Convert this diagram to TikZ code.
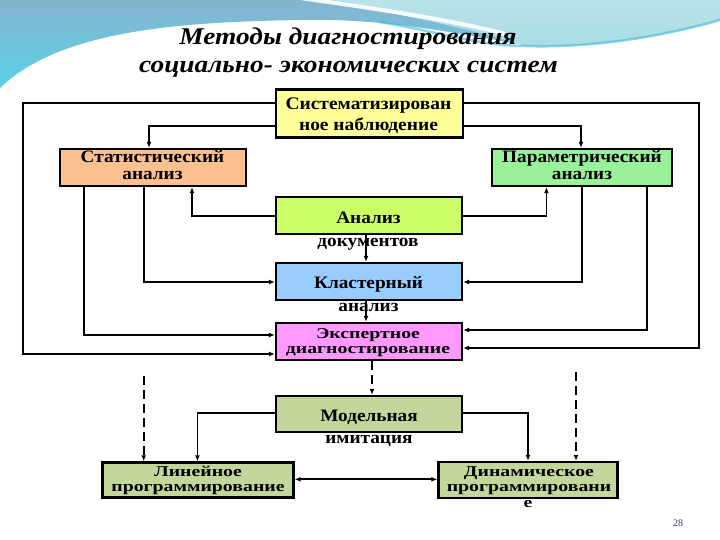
\documentclass[tikz,border=0pt]{standalone}
\usepackage{fontspec}
\setmainfont{Liberation Serif}
\newfontfamily\bxf{Liberation Serif}[FakeStretch=1.1]
\newfontfamily\bxw{Liberation Serif}[FakeStretch=1.32]
\newfontfamily\ttlf{Liberation Serif}[FakeStretch=1.14]
\usetikzlibrary{arrows.meta,calc}
\definecolor{cSys}{HTML}{FFFF99}
\definecolor{cStat}{HTML}{FAC090}
\definecolor{cPar}{HTML}{99F299}
\definecolor{cDoc}{HTML}{CCFF66}
\definecolor{cClu}{HTML}{99CCFF}
\definecolor{cExp}{HTML}{FF99FF}
\definecolor{cMod}{HTML}{C3D69B}
\definecolor{steel}{HTML}{86B4CE}
\definecolor{cyanL}{HTML}{58D2E6}
\definecolor{turq}{HTML}{A8DCE4}
\definecolor{bandE}{HTML}{3FB7D6}
\definecolor{pgnum}{HTML}{2A3F70}
\begin{document}
\begin{tikzpicture}[x=1pt,y=-1pt,
  box/.style={draw=black, line width=2.4pt, inner sep=0pt},
  txt/.style={font=\bxf\bfseries\fontsize{17.5}{17.5}\selectfont, anchor=base, inner sep=0pt},
  wtxt/.style={font=\bxw\bfseries\fontsize{15}{15}\selectfont, anchor=base, inner sep=0pt},
  bigtxt/.style={font=\bxf\bfseries\fontsize{17.7}{17.7}\selectfont, anchor=base, inner sep=0pt},
  ttl/.style={font=\ttlf\bfseries\itshape\fontsize{24}{24}\selectfont, anchor=base, inner sep=0pt},
  conn/.style={line width=1.8pt, -{Latex[length=6pt,width=5pt]}},
  dconn/.style={conn, dash pattern=on 9pt off 5pt}]
\useasboundingbox (0,0) rectangle (720,540);
% background
\fill[white] (0,0) rectangle (720,540);
\shade[top color=steel, bottom color=cyanL]
  (0,0) -- (322,0) .. controls (400,14) and (470,28) .. (525,45)
  .. controls (450,32) and (380,18) .. (300,20)
  .. controls (180,22) and (60,30) .. (0,88) -- cycle;
\shade[top color=turq!80!white, bottom color=turq]
  (322,0) -- (720,0) -- (720,20) .. controls (650,40) and (580,48) .. (525,46)
  .. controls (470,28) and (400,14) .. (322,0) -- cycle;
\draw[white, line width=4pt, opacity=0.9] (300,-2) .. controls (400,12) and (460,22) .. (505,34);
\draw[bandE, line width=2.5pt, opacity=0.6] (380,22) .. controls (440,32) and (480,46) .. (525,46) .. controls (580,48) and (650,40) .. (720,20);
% title
\node[ttl] (t1) at (348,45) {Методы диагностирования};
\node[ttl] (t2) at (348.5,72.5) {социально- экономических систем};
% boxes
\node[box, fill=cSys, minimum width=187pt, minimum height=48pt] (sys) at (369.5,113.5) {};
\node[box, fill=cStat, minimum width=186pt, minimum height=37pt] (stat) at (153,167.5) {};
\node[box, fill=cPar, minimum width=180pt, minimum height=37pt] (par) at (582,167.5) {};
\node[box, fill=cDoc, minimum width=186pt, minimum height=37pt] (doc) at (369,215.5) {};
\node[box, fill=cClu, minimum width=186pt, minimum height=37pt] (clu) at (369,281.5) {};
\node[box, fill=cExp, minimum width=186pt, minimum height=37pt] (exp) at (369,341.5) {};
\node[box, fill=cMod, minimum width=186pt, minimum height=36pt] (mod) at (369,414) {};
\node[box, fill=cMod, minimum width=191pt, minimum height=35pt] (lin) at (198,480) {};
\node[box, fill=cMod, minimum width=179pt, minimum height=36pt] (dyn) at (528,480) {};
% texts
\node[bigtxt] (sys1) at (368.5,110) {Систематизирован};
\node[bigtxt] (sys2) at (368.5,131) {ное наблюдение};
\node[txt] (stat1) at (152.5,163) {Статистический};
\node[txt] (stat2) at (152.5,179.5) {анализ};
\node[txt] (par1) at (582,163) {Параметрический};
\node[txt] (par2) at (582,179.5) {анализ};
\node[txt] (doc1) at (368.5,223.5) {Анализ};
\node[txt] (doc2) at (368,246) {документов};
\node[txt] (clu1) at (368.5,288.5) {Кластерный};
\node[txt] (clu2) at (368.5,311.5) {анализ};
\node[wtxt] (exp1) at (368,338) {Экспертное};
\node[wtxt] (exp2) at (368,353.5) {диагностирование};
\node[txt] (mod1) at (369,421) {Модельная};
\node[txt] (mod2) at (369,443.5) {имитация};
\node[wtxt] (lin1) at (198,476) {Линейное};
\node[wtxt] (lin2) at (198,491.5) {программирование};
\node[wtxt] (dyn1) at (529,476) {Динамическое};
\node[wtxt] (dyn2) at (529,491.5) {программировани};
\node[wtxt] (dyn3) at (528,507.5) {е};
\node[font=\fontsize{10}{10}\selectfont, text=pgnum, inner sep=0pt] (pg) at (678,523) {28};
% connectors
\draw[conn] ([yshift=10.5pt]sys.west) -- ++(-252,0) |- ([yshift=-12.5pt]exp.west);
\draw[conn] ([yshift=10.5pt]sys.east) -- ++(234.5,0) |- ([yshift=-6.5pt]exp.east);
\draw[conn] ([yshift=-12.5pt]sys.west) -| ([xshift=-4pt]stat.north);
\draw[conn] ([yshift=-12.5pt]sys.east) -| ([xshift=-1pt]par.north);
\draw[conn] ([xshift=-69pt]stat.south) |- ([yshift=6.5pt]exp.west);
\draw[conn] ([xshift=-9pt]stat.south) |- ([yshift=-0.5pt]clu.west);
\draw[conn] (par.south) |- ([yshift=-0.5pt]clu.east);
\draw[conn] ([xshift=65pt]par.south) |- ([yshift=11.5pt]exp.east);
\draw[conn] ([yshift=-0.5pt]doc.west) -| ([xshift=39pt]stat.south);
\draw[conn] ([yshift=-0.5pt]doc.east) -| ([xshift=-35.6pt]par.south);
\draw[conn] ([xshift=-3pt]doc.south) -- ([xshift=-3pt]clu.north);
\draw[conn] ([xshift=-3pt]clu.south) -- ([xshift=-3pt]exp.north);
\draw[dconn] ([xshift=3pt]exp.south) -- ([xshift=3pt]mod.north);
\coordinate (dl) at (143.7,376);
\coordinate (dr) at (576,372);
\draw[dconn] (dl) -- (dl |- lin.north);
\draw[dconn] (dr) -- (dr |- dyn.north);
\draw[conn] ([yshift=1pt]mod.west) -| ([xshift=-0.6pt]lin.north);
\draw[conn] ([yshift=1pt]mod.east) -| (dyn.north);
\draw[line width=1.8pt, {Latex[length=6pt,width=5pt]}-{Latex[length=6pt,width=5pt]}] ([yshift=0.7pt]lin.east) -- ([yshift=0.7pt]dyn.west);
\end{tikzpicture}
\end{document}
